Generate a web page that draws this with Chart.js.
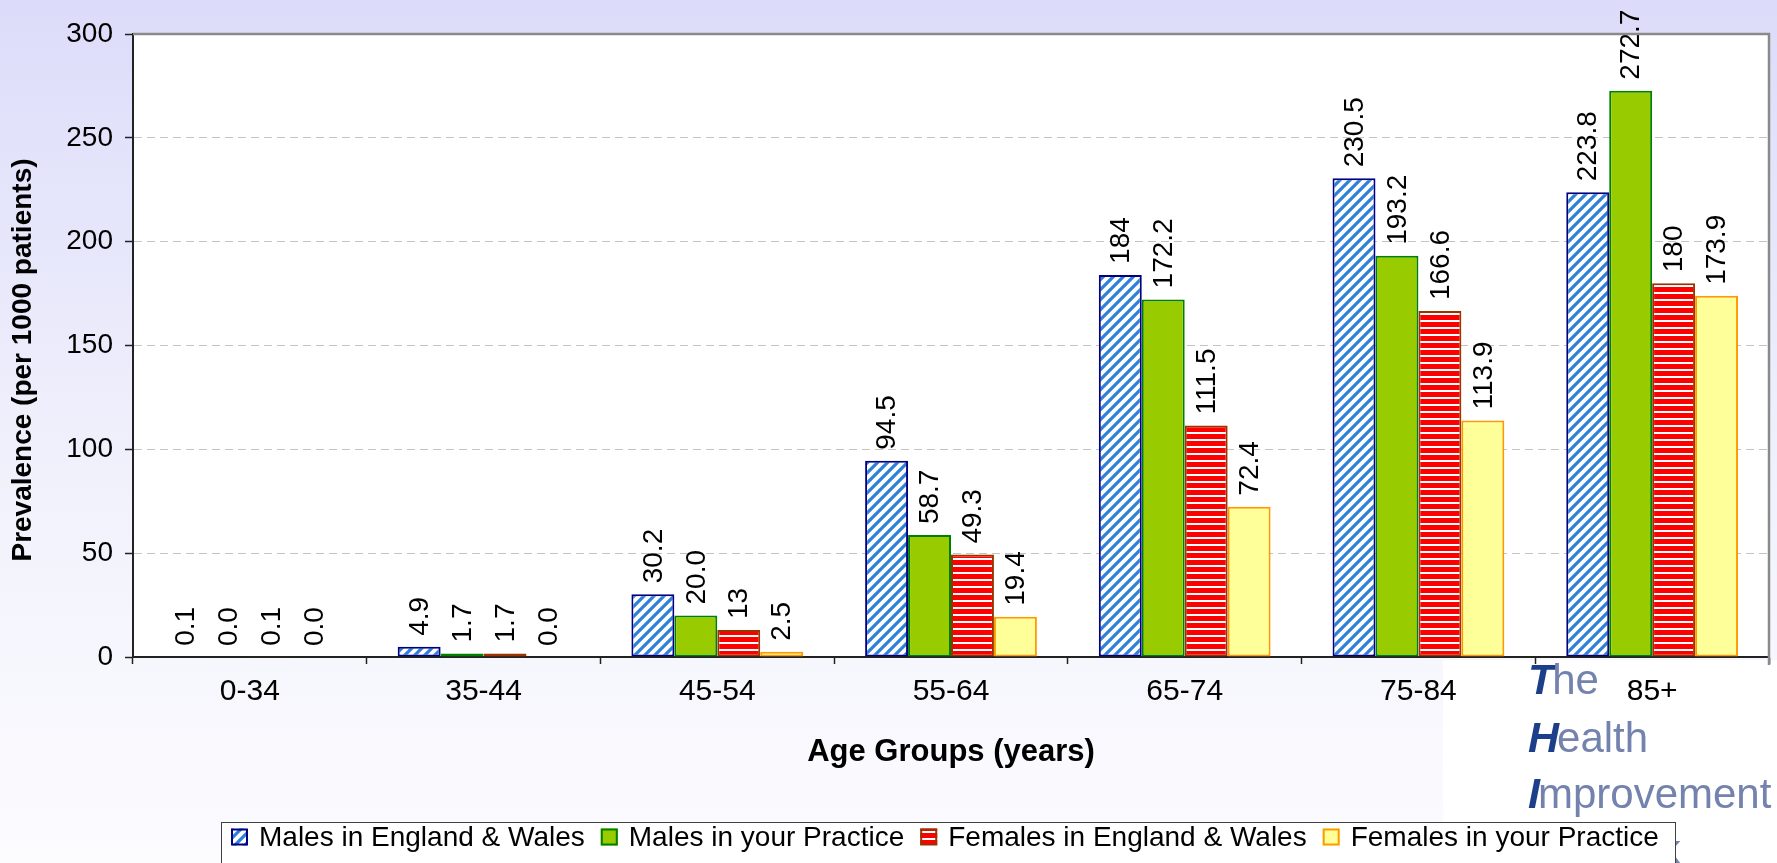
<!DOCTYPE html>
<html>
<head>
<meta charset="utf-8">
<script src="https://cdn.jsdelivr.net/npm/chart.js@4.4.1/dist/chart.umd.min.js"></script>
<style>
  html, body { margin: 0; padding: 0; background: #ffffff; }
  #wrap { width: 1777px; height: 863px; position: relative; }
  canvas { display: block; }
</style>
</head>
<body>
<div id="wrap"><canvas id="chart" width="1777" height="863"></canvas></div>
<script>
// ---------------- data ----------------
const categories = ['0-34', '35-44', '45-54', '55-64', '65-74', '75-84', '85+'];
const malesEW        = [0.1, 4.9, 30.2, 94.5, 184, 230.5, 223.8];
const malesPractice  = [0.0, 1.7, 20.0, 58.7, 172.2, 193.2, 272.7];
const femalesEW      = [0.1, 1.7, 13, 49.3, 111.5, 166.6, 180];
const femalesPractice= [0.0, 0.0, 2.5, 19.4, 72.4, 113.9, 173.9];
const seriesNames = ['Males in England & Wales', 'Males in your Practice', 'Females in England & Wales', 'Females in your Practice'];
const yTickValues = [0, 50, 100, 150, 200, 250, 300];
const xTitle = 'Age Groups (years)';
const yTitle = 'Prevalence (per 1000 patients)';
const logoLines = [['T', 'he'], ['H', 'ealth'], ['I', 'mprovement'], ['N', 'etwork']];

// ---------------- styles ----------------
const FONT = '"Liberation Sans", Arial, sans-serif';
const canvas = document.getElementById('chart');
const ctx = canvas.getContext('2d');

function diagPattern() {
  const s = 10;
  const c = document.createElement('canvas'); c.width = s; c.height = s;
  const g = c.getContext('2d');
  g.fillStyle = '#ffffff'; g.fillRect(0, 0, s, s);
  g.strokeStyle = '#2f80d8'; g.lineWidth = 3.2;
  g.beginPath();
  for (let k = -1; k <= 1; k++) { g.moveTo(k * s - 1, s + 1); g.lineTo(k * s + s + 1, -1); }
  g.stroke();
  return ctx.createPattern(c, 'repeat');
}
function hStripePattern() {
  const c = document.createElement('canvas'); c.width = 4; c.height = 7;
  const g = c.getContext('2d');
  g.fillStyle = '#ff0000'; g.fillRect(0, 0, 4, 7);
  g.fillStyle = '#ffffff'; g.fillRect(0, 5, 4, 2);
  return ctx.createPattern(c, 'repeat');
}

const datasets = [
  { label: seriesNames[0], data: malesEW, backgroundColor: diagPattern(), borderColor: '#000080', decimals: null },
  { label: seriesNames[1], data: malesPractice, backgroundColor: '#99cc00', borderColor: '#008000', decimals: 1 },
  { label: seriesNames[2], data: femalesEW, backgroundColor: hStripePattern(), borderColor: '#993300', decimals: null },
  { label: seriesNames[3], data: femalesPractice, backgroundColor: '#ffff99', borderColor: '#ff9900', decimals: 1 }
].map(d => Object.assign(d, { borderWidth: 2, borderSkipped: false, categoryPercentage: 0.735, barPercentage: 1.0 }));

function fmt(v, dec) { return dec == null ? String(v) : v.toFixed(dec); }

// ---------------- plugins ----------------
const backgroundPlugin = {
  id: 'bg',
  beforeDraw(chart) {
    const c = chart.ctx, W = chart.width, H = chart.height, a = chart.chartArea;
    c.save();
    const gr = c.createLinearGradient(0, 0, 0, H);
    gr.addColorStop(0, '#dcdcfa');
    gr.addColorStop(0.55, '#f1f1fc');
    gr.addColorStop(1, '#fcfcff');
    c.fillStyle = gr; c.fillRect(0, 0, W, H);
    // logo backdrop
    c.fillStyle = '#ffffff';
    c.fillRect(1443, a.bottom + 3, W - 1443, H - a.bottom - 3);
    // plot area
    c.fillStyle = '#ffffff';
    c.fillRect(a.left, a.top, a.right - a.left, a.bottom - a.top);
    // logo text
    c.textBaseline = 'alphabetic'; c.textAlign = 'left';
    const baseY = [694, 752, 808, 864];
    logoLines.forEach((ln, i) => {
      let x = 1528;
      c.font = 'italic bold 43px ' + FONT;
      c.fillStyle = '#1d3f8a';
      c.fillText(ln[0], x, baseY[i]);
      x += c.measureText(ln[0]).width + (i === 2 ? -2 : -2);
      c.font = '42px ' + FONT;
      c.fillStyle = '#7482ae';
      c.fillText(ln[1], x, baseY[i]);
    });
    c.restore();
  }
};

const overlayPlugin = {
  id: 'overlay',
  afterDatasetsDraw(chart) {
    const c = chart.ctx, a = chart.chartArea;
    c.save();
    // value labels
    c.font = '28px ' + FONT;
    c.fillStyle = '#000000';
    c.textAlign = 'left'; c.textBaseline = 'middle';
    chart.data.datasets.forEach((ds, di) => {
      const meta = chart.getDatasetMeta(di);
      meta.data.forEach((el, i) => {
        c.save();
        c.translate(el.x, el.y - 11);
        c.rotate(-Math.PI / 2);
        c.fillText(fmt(ds.data[i], ds.decimals), 0, 1);
        c.restore();
      });
    });
    // top & right frame
    c.strokeStyle = '#8a8a8a'; c.lineWidth = 2.5;
    c.beginPath();
    c.moveTo(a.left, a.top); c.lineTo(a.right, a.top); c.lineTo(a.right, a.bottom + 8);
    c.stroke();
    c.restore();
  },
  afterDraw(chart) {
    const c = chart.ctx, a = chart.chartArea;
    c.save();
    // axis titles
    c.fillStyle = '#000000';
    c.font = 'bold 31px ' + FONT;
    c.textAlign = 'center'; c.textBaseline = 'middle';
    c.fillText(xTitle, (a.left + a.right) / 2, 752);
    c.font = 'bold 28px ' + FONT;
    c.save();
    c.translate(23, 360);
    c.rotate(-Math.PI / 2);
    c.fillText(yTitle, 0, 0);
    c.restore();
    // legend
    const bx = 221, by = 822, bw = 1675 - 221, bh = 70;
    c.fillStyle = '#ffffff';
    c.fillRect(bx, by, bw, bh);
    c.strokeStyle = '#404040'; c.lineWidth = 1;
    c.strokeRect(bx + 0.5, by + 0.5, bw, bh);
    c.font = '28px ' + FONT;
    c.textAlign = 'left'; c.textBaseline = 'middle';
    let x = 231; const cy = 837, ms = 17;
    chart.data.datasets.forEach(ds => {
      c.fillStyle = ds.backgroundColor;
      c.fillRect(x, cy - ms / 2, ms, ms);
      c.strokeStyle = ds.borderColor; c.lineWidth = 2;
      c.strokeRect(x + 1, cy - ms / 2 + 1, ms - 2, ms - 2);
      x += ms + 11;
      c.fillStyle = '#000000';
      c.fillText(ds.label, x, cy + 1);
      x += c.measureText(ds.label).width + 16;
    });
    c.restore();
  }
};

// ---------------- chart ----------------
new Chart(ctx, {
  type: 'bar',
  data: { labels: categories, datasets: datasets },
  options: {
    responsive: false,
    animation: false,
    layout: { padding: { top: 34, right: 8, left: 0, bottom: 0 } },
    plugins: { legend: { display: false }, tooltip: { enabled: false } },
    scales: {
      x: {
        offset: true,
        grid: { display: true, offset: true, drawOnChartArea: false, drawTicks: true, tickLength: 7, tickColor: '#222222', tickWidth: 1.5 },
        border: { display: true, color: '#222222', width: 2 },
        ticks: { color: '#000000', font: { family: FONT, size: 30 }, padding: 10, maxRotation: 0 },
        afterFit(s) { s.height = 206; }
      },
      y: {
        min: 0, max: 300,
        afterBuildTicks(s) { s.ticks = yTickValues.map(v => ({ value: v })); },
        grid: {
          color: c => (c.tick && (c.tick.value === 0 || c.tick.value === 300)) ? 'rgba(0,0,0,0)' : '#c4c4c4',
          lineWidth: 1, drawTicks: true, tickLength: 8, tickColor: '#222222', tickWidth: 1.5, tickBorderDash: []
        },
        border: { display: true, color: '#222222', width: 2, dash: [8, 5] },
        ticks: { color: '#000000', font: { family: FONT, size: 28 }, padding: 12 },
        afterFit(s) { s.width = 133; }
      }
    }
  },
  plugins: [backgroundPlugin, overlayPlugin]
});
</script>
</body>
</html>
